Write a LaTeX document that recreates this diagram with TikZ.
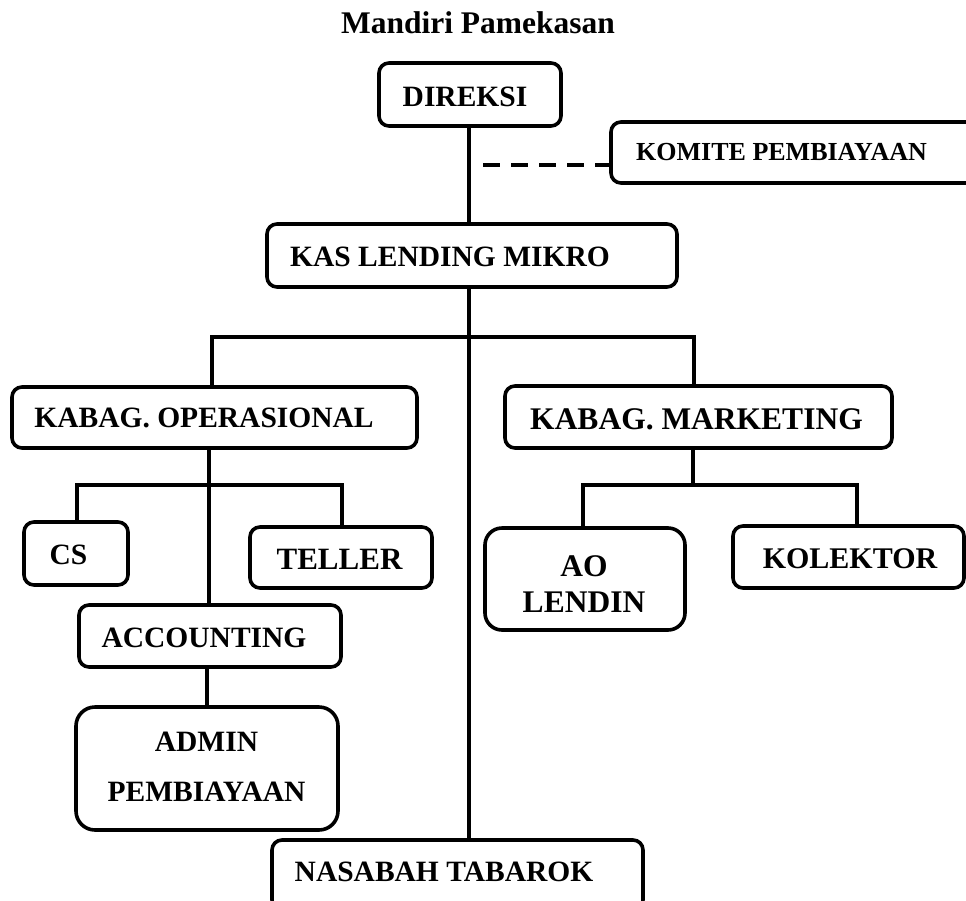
\documentclass[tikz,border=0pt]{standalone}
\usepackage{fontspec}
\setmainfont{Liberation Serif}
\begin{document}
\begin{tikzpicture}[x=1pt,y=-1pt,
  box/.style={draw, line width=3.6pt, rounded corners=10pt, inner sep=0pt, minimum width=#1},
  box/.default=100pt,
  txt/.style={inner sep=0pt, font=\fontsize{29.5}{35}\selectfont\bfseries},
  conn/.style={line width=3.6pt},
  dashconn/.style={line width=4pt, dash pattern=on 17pt off 11pt}]
\clip (0,0) rectangle (966,900);
\fill[white] (0,0) rectangle (966,900);

% title
\node[inner sep=0pt, anchor=base, font=\fontsize{31.5}{36}\selectfont\bfseries] (title) at (478,33) {Mandiri Pamekasan};

% boxes
\node[box=182pt, minimum height=63pt] (dir) at (470,94.5) {};
\node[box=389pt, minimum height=61pt] (kom) at (805.5,152.5) {};
\node[box=410pt, minimum height=63pt] (kas) at (472,255.5) {};
\node[box=405pt, minimum height=61pt] (op) at (214.5,417.5) {};
\node[box=387pt, minimum height=62pt] (mkt) at (698.5,417) {};
\node[box=104pt, minimum height=63pt] (cs) at (76,553.5) {};
\node[box=182pt, minimum height=61pt] (tel) at (341,557.5) {};
\node[box=200pt, minimum height=102pt, rounded corners=17pt] (ao) at (585,579) {};
\node[box=231pt, minimum height=62pt] (kol) at (848.5,557) {};
\node[box=262pt, minimum height=62pt] (acc) at (210,636) {};
\node[box=262pt, minimum height=123pt, rounded corners=19pt] (adm) at (207,768.5) {};
\node[box=371pt, minimum height=70pt] (nas) at (457.5,875) {};

% texts
\node[txt] (tdir) at (465,97) {DIREKSI};
\node[txt, font=\fontsize{26}{30}\selectfont\bfseries, anchor=west] (tkom) at (636,152.5) {KOMITE PEMBIAYAAN};
\node[txt] (tkas) at (450,256.5) {KAS LENDING MIKRO};
\node[txt] (top) at (204,418) {KABAG. OPERASIONAL};
\node[txt, font=\fontsize{31.5}{36}\selectfont\bfseries] (tmkt) at (696.5,419) {KABAG. MARKETING};
\node[txt] (tcs) at (68.5,555) {CS};
\node[txt, font=\fontsize{31}{36}\selectfont\bfseries] (ttel) at (339.5,559) {TELLER};
\node[txt, align=center, font=\fontsize{31.5}{36}\selectfont\bfseries] (tao) at (584,584) {AO\\LENDIN};
\node[txt, font=\fontsize{30}{36}\selectfont\bfseries] (tkol) at (850,559) {KOLEKTOR};
\node[txt] (tacc) at (204,637.5) {ACCOUNTING};
\node[txt, align=center, font=\fontsize{29.5}{50}\selectfont\bfseries] (tadm) at (206.5,767) {ADMIN\\PEMBIAYAAN};
\node[txt] (tnas) at (444,872) {NASABAH TABAROK};

% connectors
\coordinate (trunk) at (469,0);
\coordinate (bar) at (0,337);
\coordinate (opx) at (212,0);
\coordinate (mktx) at (694,0);
\coordinate (dashstart) at (483,165);
\coordinate (opdown) at (209,0);
\coordinate (opbar) at (0,485);
\coordinate (csx) at (77,0);
\coordinate (telx) at (342,0);
\coordinate (accx) at (207,0);
\coordinate (mktdown) at (693,0);
\coordinate (aox) at (583,0);
\coordinate (kolx) at (857,0);

\draw[conn] (trunk |- dir.south) -- (trunk |- kas.north);
\draw[conn] (trunk |- kas.south) -- (trunk |- nas.north);
\draw[dashconn] (dashstart) -- (dashstart -| kom.west);
\draw[conn] (opx |- op.north) -- (opx |- bar) -- (mktx |- bar) -- (mktx |- mkt.north);
\draw[conn] (opdown |- op.south) -- (opdown |- acc.north);
\draw[conn] (csx |- cs.north) -- (csx |- opbar) -- (telx |- opbar) -- (telx |- tel.north);
\draw[conn] (accx |- acc.south) -- (accx |- adm.north);
\draw[conn] (mktdown |- mkt.south) -- (mktdown |- opbar);
\draw[conn] (aox |- ao.north) -- (aox |- opbar) -- (kolx |- opbar) -- (kolx |- kol.north);
\end{tikzpicture}
\end{document}
